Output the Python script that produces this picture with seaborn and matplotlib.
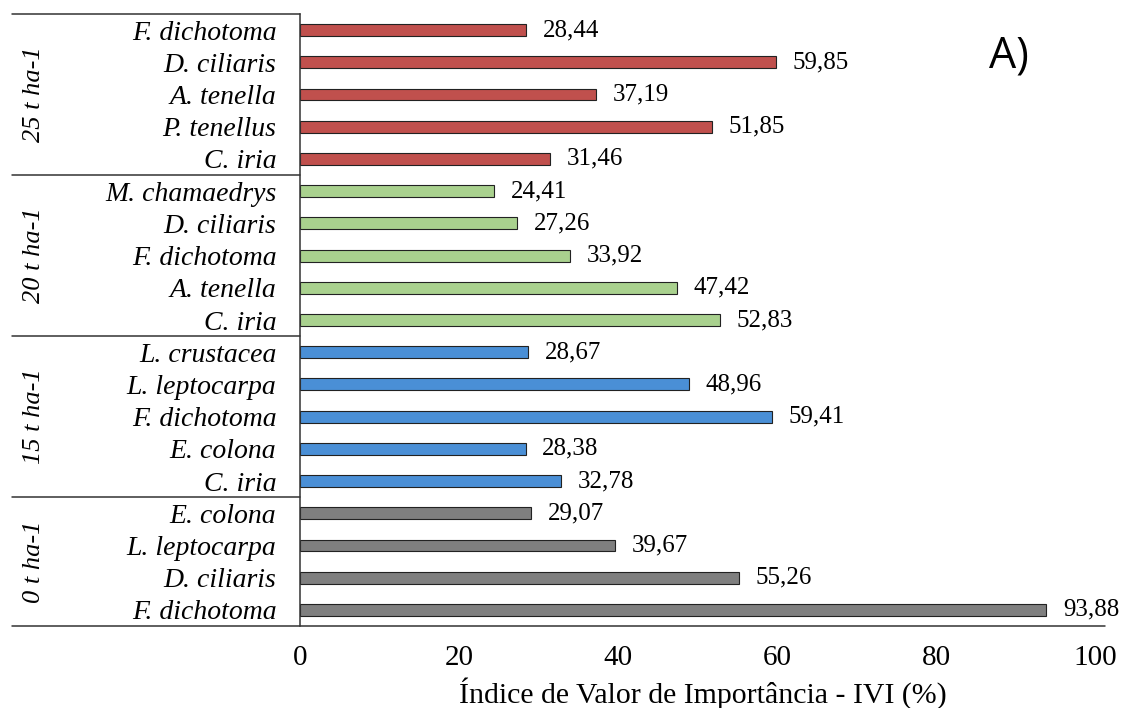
import pandas as pd
import seaborn as sns
import matplotlib.pyplot as plt
import matplotlib.transforms as mtransforms

# data, top to bottom as in the figure
groups = ["25 t ha-1", "20 t ha-1", "15 t ha-1", "0 t ha-1"]
sp_25 = ["F. dichotoma", "D. ciliaris", "A. tenella", "P. tenellus", "C. iria"]
ivi_25 = [28.44, 59.85, 37.19, 51.85, 31.46]
sp_20 = ["M. chamaedrys", "D. ciliaris", "F. dichotoma", "A. tenella", "C. iria"]
ivi_20 = [24.41, 27.26, 33.92, 47.42, 52.83]
sp_15 = ["L. crustacea", "L. leptocarpa", "F. dichotoma", "E. colona", "C. iria"]
ivi_15 = [28.67, 48.96, 59.41, 28.38, 32.78]
sp_0 = ["E. colona", "L. leptocarpa", "D. ciliaris", "F. dichotoma"]
ivi_0 = [29.07, 39.67, 55.26, 93.88]
colors = ["#c0504d", "#a9d18e", "#4a8fd6", "#7f7f7f"]

sns.set_style("white")
plt.rcParams['font.family'] = ['Liberation Serif', 'DejaVu Serif']
for k in ["text.color", "axes.labelcolor", "xtick.color", "ytick.color"]:
    plt.rcParams[k] = "black"

species_lists = [sp_25, sp_20, sp_15, sp_0]
ivi_lists = [ivi_25, ivi_20, ivi_15, ivi_0]
rows = []
for g, sp, vals in zip(groups, species_lists, ivi_lists):
    for s, v in zip(sp, vals):
        rows.append({"group": g, "species": s, "row": g + "|" + s, "ivi": v})
df = pd.DataFrame(rows)

fig = plt.figure(figsize=(11.33, 7.08), dpi=100)
ax = fig.add_axes([300 / 1133, 1 - 626 / 708, 805 / 1133, 612 / 708])

sns.barplot(data=df, x="ivi", y="row", hue="group", palette=colors, dodge=False,
            saturation=1, width=0.37, edgecolor="#222222", linewidth=0.8,
            legend=False, ax=ax)

for c in ax.containers:
    ax.bar_label(c, labels=[f"{v:.2f}".replace(".", ",") for v in c.datavalues],
                 padding=12, fontsize=18)

ax.set_xlim(0, 101.26)
ax.set_xticks([0, 20, 40, 60, 80, 100])
ax.set_ylim(len(df) - 0.5, -0.5)
ax.set_yticks(range(len(df)))
ax.set_yticklabels(df["species"], fontstyle="italic", fontsize=20)
ax.tick_params(axis="y", length=0, pad=17)
ax.tick_params(axis="x", length=0, pad=14, labelsize=21)
ax.set_ylabel("")
ax.set_xlabel("Índice de Valor de Importância - IVI (%)", fontsize=21.5, labelpad=4)

for s in ["top", "right", "bottom"]:
    ax.spines[s].set_visible(False)
ax.spines["left"].set_color("#333333")
ax.spines["left"].set_linewidth(1.1)

# box lines on the left side and group separators
trans = mtransforms.blended_transform_factory(ax.transAxes, ax.transData)
x0 = (12 - 300) / 805
ax.plot([x0, 1], [0, 0], transform=ax.transAxes, color="#333333", lw=1.1, clip_on=False)
ax.plot([x0, 0], [1, 1], transform=ax.transAxes, color="#333333", lw=1.1, clip_on=False)
start = 0
for g, sp in zip(groups, species_lists):
    end = start + len(sp)
    if end < len(df):
        ax.plot([x0, 0], [end - 0.5, end - 0.5], transform=trans, color="#333333",
                lw=1.1, clip_on=False)
    ax.text((34 - 300) / 805, (start + end - 1) / 2, g, transform=trans, rotation=90,
            ha="center", va="center", fontstyle="italic", fontsize=19)
    start = end

fig.text(1009 / 1133, 1 - 56 / 708, "A)", fontsize=31, family="Open Sans",
         ha="center", va="center")

fig.savefig("out.png", dpi=100)
